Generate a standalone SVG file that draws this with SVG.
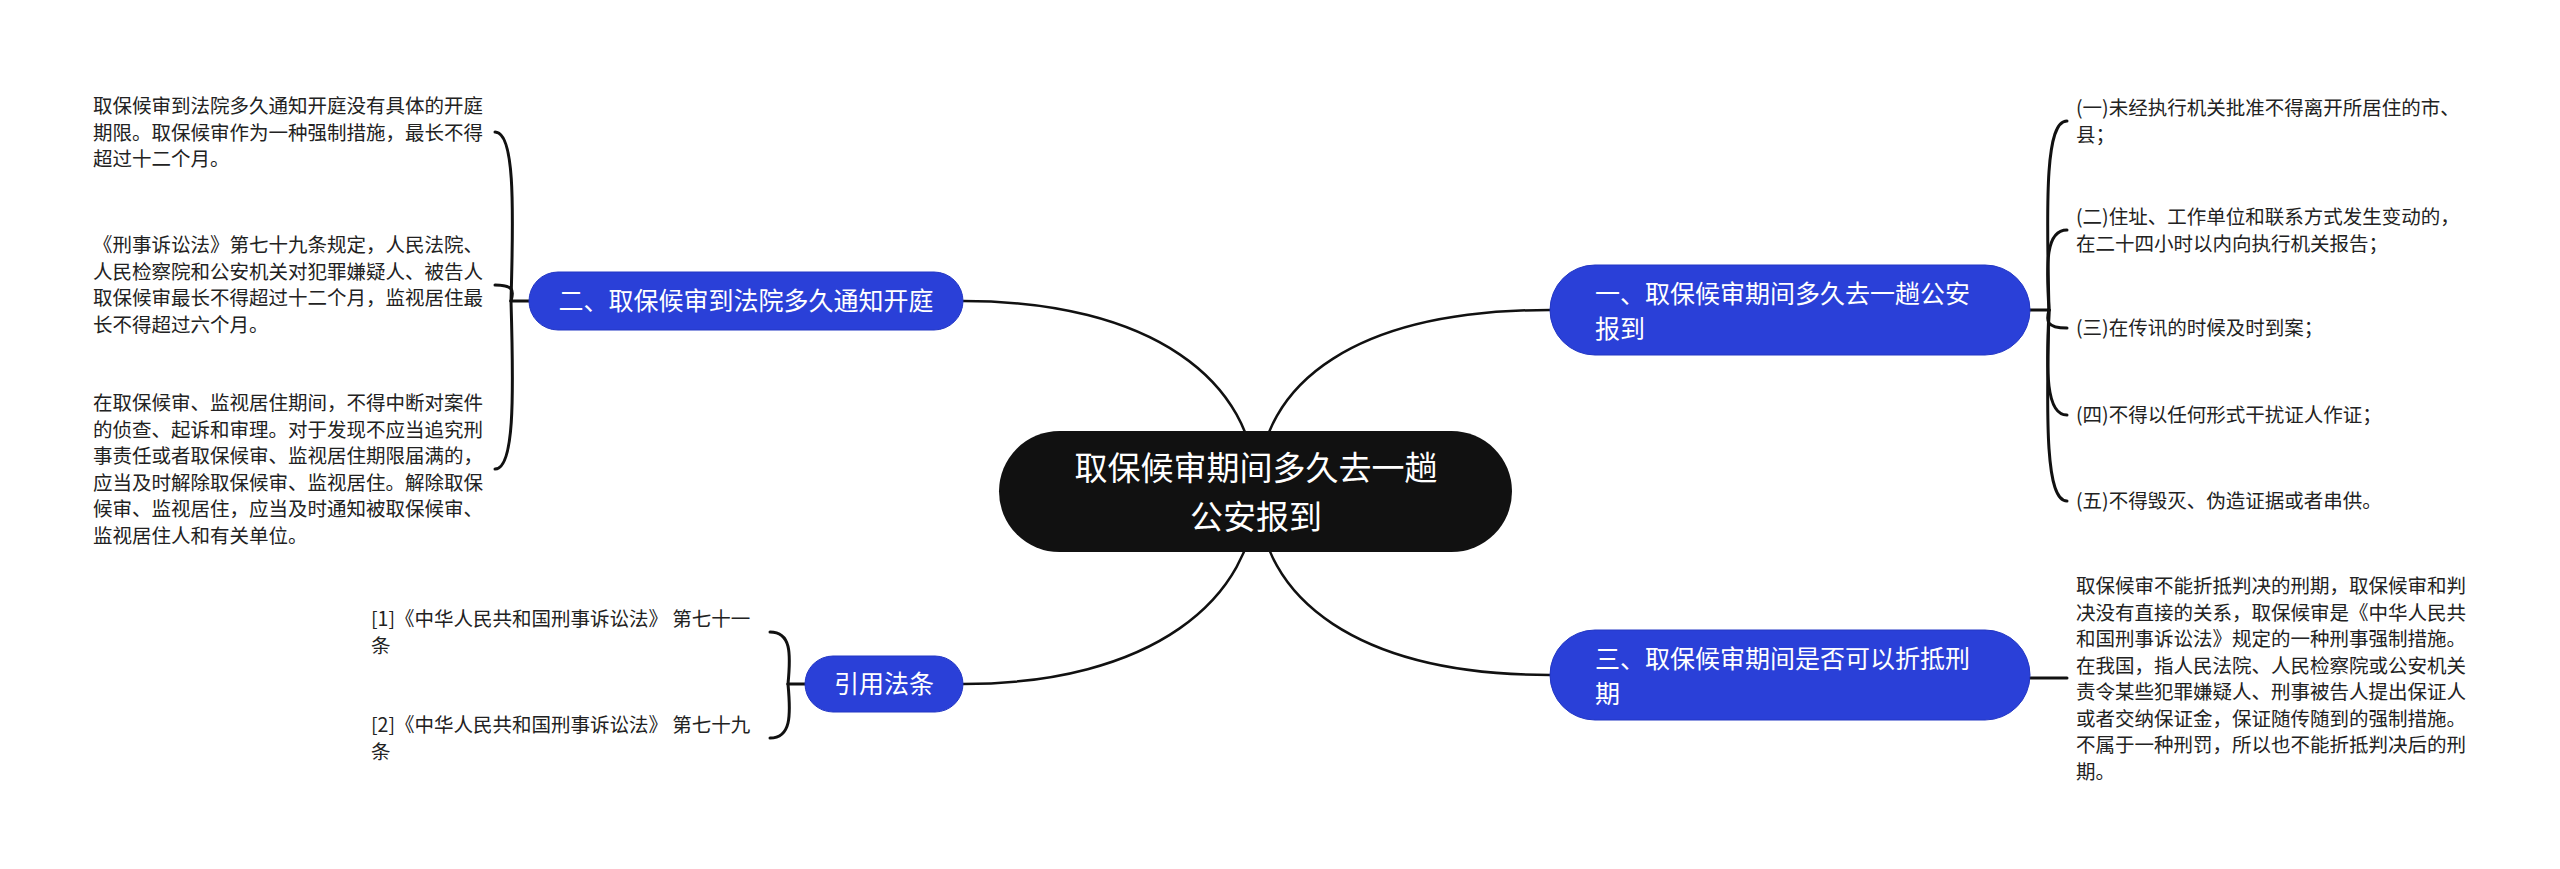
<svg xmlns="http://www.w3.org/2000/svg" width="2560" height="869" viewBox="0 0 2560 869">
<style>
.bg{fill:#ffffff}
.conn{fill:none;stroke:#111111;stroke-width:3;stroke-linecap:round}
.main{fill:none;stroke:#111111;stroke-width:2.5}
.root{fill:#111111}
.branch{fill:#2a40d8;stroke:#2236c4;stroke-width:1}
.rt{font-family:"Noto Sans CJK SC","Noto Sans",sans-serif;font-size:33px;fill:#ffffff;text-anchor:middle}
.bt{font-family:"Noto Sans CJK SC","Noto Sans",sans-serif;font-size:25px;fill:#ffffff}
.lt{font-family:"Noto Sans CJK SC","Noto Sans",sans-serif;font-size:19.5px;fill:#222222}
</style>
<rect class="bg" x="0" y="0" width="2560" height="869"/>
<g id="connectors">
<path class="main" d="M963 301 C1150 301 1256 380 1256 491"/>
<path class="main" d="M1550 310 C1360 310 1258 380 1258 491"/>
<path class="main" d="M963 684 C1150 684 1256 600 1256 491"/>
<path class="main" d="M1550 675 C1360 675 1258 600 1258 491"/>
<path class="conn" d="M529 301 H511"/>
<path class="conn" d="M511 301 C514 199 514 132 495 132"/>
<path class="conn" d="M511 301 C514 291 514 285 495 285"/>
<path class="conn" d="M511 301 C514 401 514 469 495 469"/>
<path class="conn" d="M2030 310 H2049"/>
<path class="conn" d="M2049 310 C2046 193 2046 121 2067 121"/>
<path class="conn" d="M2049 310 C2046 262 2046 230 2067 230"/>
<path class="conn" d="M2049 310 C2046 321 2046 328 2067 328"/>
<path class="conn" d="M2049 310 C2046 373 2046 415 2067 415"/>
<path class="conn" d="M2049 310 C2046 425 2046 501 2067 501"/>
<path class="conn" d="M2030 678 H2067"/>
<path class="conn" d="M805 684 H788"/>
<path class="conn" d="M788 684 C791 653 791 632 770 632"/>
<path class="conn" d="M788 684 C791 716 791 738 770 738"/>
</g>
<g id="root">
<rect class="root" x="999" y="431" width="513" height="121" rx="60.5"/>
<text class="rt" x="1256" y="480">取保候审期间多久去一趟</text>
<text class="rt" x="1256" y="529">公安报到</text>
</g>
<g id="branch1">
<rect class="branch" x="1550" y="265" width="480" height="90" rx="45"/>
<text class="bt" x="1595" y="303">一、取保候审期间多久去一趟公安</text>
<text class="bt" x="1595" y="338">报到</text>
</g>
<g id="branch2">
<rect class="branch" x="529" y="272" width="434" height="58" rx="29"/>
<text class="bt" x="746" y="310" text-anchor="middle">二、取保候审到法院多久通知开庭</text>
</g>
<g id="branch3">
<rect class="branch" x="1550" y="630" width="480" height="90" rx="45"/>
<text class="bt" x="1595" y="668">三、取保候审期间是否可以折抵刑</text>
<text class="bt" x="1595" y="703">期</text>
</g>
<g id="branch4">
<rect class="branch" x="805" y="656" width="158" height="56" rx="28"/>
<text class="bt" x="884" y="693" text-anchor="middle">引用法条</text>
</g>
<g id="leaf-l1">
<text class="lt" x="93" y="113">取保候审到法院多久通知开庭没有具体的开庭</text>
<text class="lt" x="93" y="139.5">期限。取保候审作为一种强制措施，最长不得</text>
<text class="lt" x="93" y="166">超过十二个月。</text>
</g>
<g id="leaf-l2">
<text class="lt" x="93" y="252">《刑事诉讼法》第七十九条规定，人民法院、</text>
<text class="lt" x="93" y="278.5">人民检察院和公安机关对犯罪嫌疑人、被告人</text>
<text class="lt" x="93" y="305">取保候审最长不得超过十二个月，监视居住最</text>
<text class="lt" x="93" y="331.5">长不得超过六个月。</text>
</g>
<g id="leaf-l3">
<text class="lt" x="93" y="410">在取保候审、监视居住期间，不得中断对案件</text>
<text class="lt" x="93" y="436.5">的侦查、起诉和审理。对于发现不应当追究刑</text>
<text class="lt" x="93" y="463">事责任或者取保候审、监视居住期限届满的，</text>
<text class="lt" x="93" y="489.5">应当及时解除取保候审、监视居住。解除取保</text>
<text class="lt" x="93" y="516">候审、监视居住，应当及时通知被取保候审、</text>
<text class="lt" x="93" y="542.5">监视居住人和有关单位。</text>
</g>
<g id="leaf-r1">
<text class="lt" x="2076" y="115">(一)未经执行机关批准不得离开所居住的市、</text>
<text class="lt" x="2076" y="141.5">县；</text>
</g>
<g id="leaf-r2">
<text class="lt" x="2076" y="224">(二)住址、工作单位和联系方式发生变动的，</text>
<text class="lt" x="2076" y="250.5">在二十四小时以内向执行机关报告；</text>
</g>
<g id="leaf-r3">
<text class="lt" x="2076" y="335">(三)在传讯的时候及时到案；</text>
</g>
<g id="leaf-r4">
<text class="lt" x="2076" y="422">(四)不得以任何形式干扰证人作证；</text>
</g>
<g id="leaf-r5">
<text class="lt" x="2076" y="508">(五)不得毁灭、伪造证据或者串供。</text>
</g>
<g id="leaf-r6">
<text class="lt" x="2076" y="593">取保候审不能折抵判决的刑期，取保候审和判</text>
<text class="lt" x="2076" y="619.5">决没有直接的关系，取保候审是《中华人民共</text>
<text class="lt" x="2076" y="646">和国刑事诉讼法》规定的一种刑事强制措施。</text>
<text class="lt" x="2076" y="672.5">在我国，指人民法院、人民检察院或公安机关</text>
<text class="lt" x="2076" y="699">责令某些犯罪嫌疑人、刑事被告人提出保证人</text>
<text class="lt" x="2076" y="725.5">或者交纳保证金，保证随传随到的强制措施。</text>
<text class="lt" x="2076" y="752">不属于一种刑罚，所以也不能折抵判决后的刑</text>
<text class="lt" x="2076" y="778.5">期。</text>
</g>
<g id="leaf-c1">
<text class="lt" x="371" y="626">[1]《中华人民共和国刑事诉讼法》 第七十一</text>
<text class="lt" x="371" y="652.5">条</text>
</g>
<g id="leaf-c2">
<text class="lt" x="371" y="732">[2]《中华人民共和国刑事诉讼法》 第七十九</text>
<text class="lt" x="371" y="758.5">条</text>
</g>
</svg>
